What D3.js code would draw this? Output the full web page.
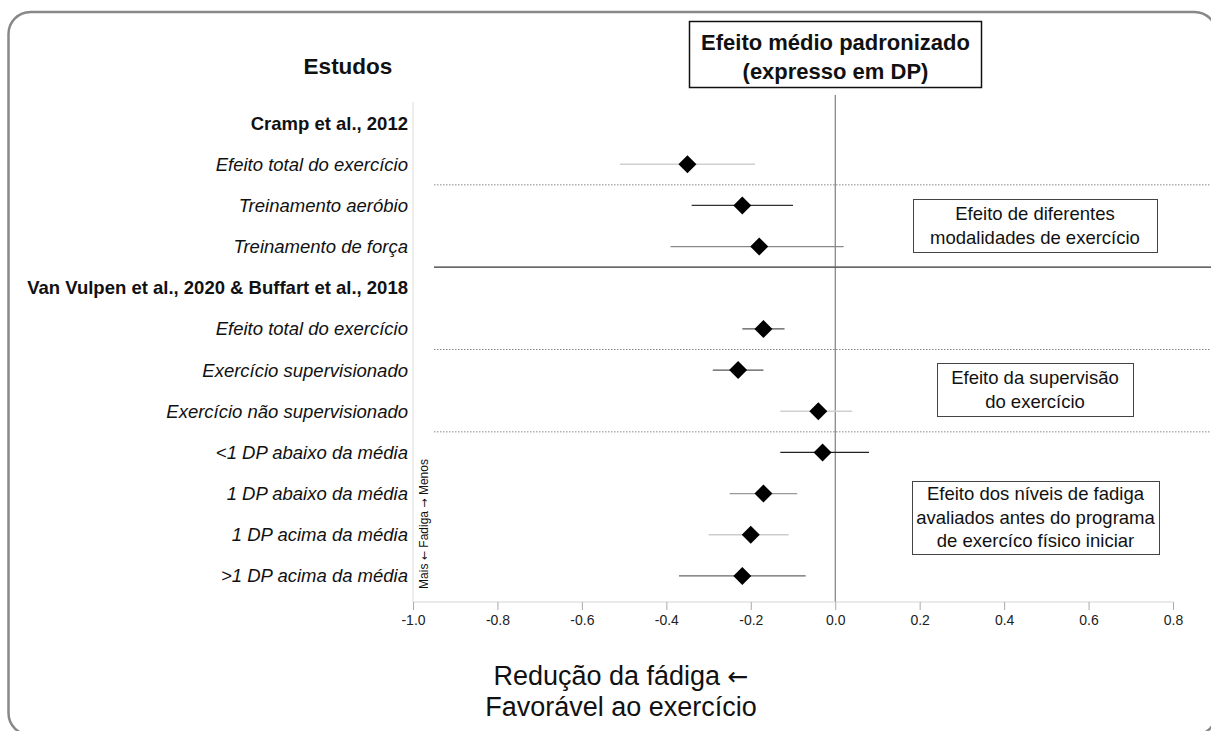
<!DOCTYPE html>
<html><head><meta charset="utf-8">
<script src="https://cdn.jsdelivr.net/npm/d3@7"></script>
<style>body{margin:0;background:#fff}svg{display:block}</style>
</head><body>
<svg id="c" width="1211" height="731"></svg>
<script>
const rowLabels = ["Cramp et al., 2012","Efeito total do exercício","Treinamento aeróbio","Treinamento de força",
  "Van Vulpen et al., 2020 & Buffart et al., 2018","Efeito total do exercício","Exercício supervisionado",
  "Exercício não supervisionado","<1 DP abaixo da média","1 DP abaixo da média","1 DP acima da média",">1 DP acima da média"];
const isHeader = [true,false,false,false,true,false,false,false,false,false,false,false];
const estimates = [null,-0.35,-0.22,-0.18,null,-0.17,-0.23,-0.04,-0.03,-0.17,-0.20,-0.22];
const lowerCI   = [null,-0.51,-0.34,-0.39,null,-0.22,-0.29,-0.13,-0.13,-0.25,-0.30,-0.37];
const upperCI   = [null,-0.19,-0.10, 0.02,null,-0.12,-0.17, 0.04, 0.08,-0.09,-0.11,-0.07];
const ciColors  = [null,"#d0d0d0","#333","#8a8a8a",null,"#555","#555","#d0d0d0","#222","#999","#ccc","#666"];
const xTicks = [-1.0,-0.8,-0.6,-0.4,-0.2,0.0,0.2,0.4,0.6,0.8];
const separators = [{after:1,style:"dot"},{after:3,style:"solid"},{after:5,style:"dot"},{after:7,style:"dot"}];
const groupBoxes = [
  {lines:["Efeito de diferentes","modalidades de exercício"], x0:913, x1:1157, y0:199, y1:252},
  {lines:["Efeito da supervisão","do exercício"], x0:937, x1:1133, y0:363, y1:416},
  {lines:["Efeito dos níveis de fadiga","avaliados antes do programa","de exercíco físico iniciar"], x0:912, x1:1159, y0:481, y1:554}
];

const svg = d3.select("#c");
const F = "'Liberation Sans', Arial, sans-serif";
const FA = "'DejaVu Sans', sans-serif";

// outer rounded frame
svg.append("rect").attr("x",8.5).attr("y",12).attr("width",1208).attr("height",723)
  .attr("rx",22).attr("fill","none").attr("stroke","#888").attr("stroke-width",2.5);

const x = d3.scaleLinear().domain([-1,0.8]).range([413,1173]);
const y = d3.scaleBand().domain(d3.range(rowLabels.length)).range([102.5,596.5]);
const yc = i => y(i) + y.bandwidth()/2;
const axisY = 602;

// left light vertical line
svg.append("line").attr("x1",413).attr("x2",413).attr("y1",102).attr("y2",axisY)
  .attr("stroke","#e2e2e2").attr("stroke-width",1.2);

// separators
separators.forEach(s=>{
  const yy = (yc(s.after)+yc(s.after+1))/2;
  svg.append("line").attr("x1",434).attr("x2",1211).attr("y1",yy).attr("y2",yy)
    .attr("stroke", s.style==="solid" ? "#333" : "#888")
    .attr("stroke-width", s.style==="solid" ? 1.2 : 1)
    .attr("stroke-dasharray", s.style==="solid" ? null : "1.5,1.5");
});

// zero line
svg.append("line").attr("x1",x(0)).attr("x2",x(0)).attr("y1",95).attr("y2",axisY)
  .attr("stroke","#666").attr("stroke-width",1);

// axis
const ax = svg.append("g").attr("transform",`translate(0,${axisY})`)
  .call(d3.axisBottom(x).tickValues(xTicks).tickFormat(d3.format(".1f")).tickSize(8).tickPadding(5));
ax.select(".domain").attr("stroke","#d6d6d6").attr("stroke-width",1.2).attr("d",`M${x(-1)},0H${x(0.8)}`);
ax.selectAll(".tick line").attr("stroke","#aaa").attr("y1",0).attr("y2",8);
ax.selectAll(".tick text").attr("font-family",F).attr("font-size",14).attr("fill","#222")
  .text(d=> d<0 ? "-"+Math.abs(d).toFixed(1) : d.toFixed(1));

// row labels
svg.selectAll("text.row").data(rowLabels).join("text").attr("class","row")
  .attr("x",408).attr("y",(d,i)=>yc(i)).attr("dy","0.35em").attr("text-anchor","end")
  .attr("font-family",F).attr("font-size",18.5)
  .attr("font-weight",(d,i)=>isHeader[i]?"bold":"normal")
  .attr("font-style",(d,i)=>isHeader[i]?"normal":"italic").attr("fill","#111").text(d=>d);

// CIs and diamonds
const rows = d3.range(rowLabels.length).filter(i=>estimates[i]!==null);
svg.selectAll("line.ci").data(rows).join("line").attr("class","ci")
  .attr("x1",i=>x(lowerCI[i])).attr("x2",i=>x(upperCI[i])).attr("y1",yc).attr("y2",yc)
  .attr("stroke",i=>ciColors[i]).attr("stroke-width",1.3);
svg.selectAll("path.pt").data(rows).join("path").attr("class","pt")
  .attr("d",i=>{const cx=x(estimates[i]),cy=yc(i),w=9,h=9;return `M${cx},${cy-h}L${cx+w},${cy}L${cx},${cy+h}L${cx-w},${cy}Z`;})
  .attr("fill","#000");

// header "Estudos"
svg.append("text").attr("x",348).attr("y",66).attr("dy","0.35em").attr("text-anchor","middle")
  .attr("font-family",F).attr("font-size",22.5).attr("font-weight","bold").attr("fill","#111").text("Estudos");

// title box
svg.append("rect").attr("x",689.5).attr("y",21.5).attr("width",292).attr("height",66)
  .attr("fill","#fff").attr("stroke","#111").attr("stroke-width",1.5);
[["Efeito médio padronizado",42],["(expresso em DP)",71]].forEach(([t,yy])=>{
  svg.append("text").attr("x",835.5).attr("y",yy).attr("dy","0.35em").attr("text-anchor","middle")
    .attr("font-family",F).attr("font-size",22).attr("font-weight","bold").attr("fill","#111").text(t);
});

// group boxes
groupBoxes.forEach(b=>{
  svg.append("rect").attr("x",b.x0+0.5).attr("y",b.y0+0.5).attr("width",b.x1-b.x0).attr("height",b.y1-b.y0)
    .attr("fill","#fff").attr("stroke","#444").attr("stroke-width",1);
  const n=b.lines.length, lh=23.5, cy=(b.y0+b.y1)/2;
  b.lines.forEach((t,k)=>{
    svg.append("text").attr("x",(b.x0+b.x1)/2).attr("y",cy+(k-(n-1)/2)*lh).attr("dy","0.35em")
      .attr("text-anchor","middle").attr("font-family",F).attr("font-size",18.5).attr("fill","#111").text(t);
  });
});

// rotated side note
const side = svg.append("text").attr("transform","translate(428,524) rotate(-90)").attr("text-anchor","middle")
  .attr("font-family",F).attr("font-size",12).attr("fill","#111");
side.append("tspan").text("Mais ");
side.append("tspan").attr("font-family",FA).attr("font-size",11).text("←");
side.append("tspan").text(" Fadiga ");
side.append("tspan").attr("font-family",FA).attr("font-size",11).text("→");
side.append("tspan").text(" Menos");

// bottom caption
const c1 = svg.append("text").attr("x",621).attr("y",676).attr("dy","0.35em").attr("text-anchor","middle")
  .attr("font-family",F).attr("font-size",27).attr("fill","#111");
c1.append("tspan").text("Redução da fádiga ");
c1.append("tspan").attr("font-family",FA).attr("font-size",25).text("←");
svg.append("text").attr("x",621).attr("y",707).attr("dy","0.35em").attr("text-anchor","middle")
  .attr("font-family",F).attr("font-size",27).attr("fill","#111").text("Favorável ao exercício");
</script>
</body></html>
